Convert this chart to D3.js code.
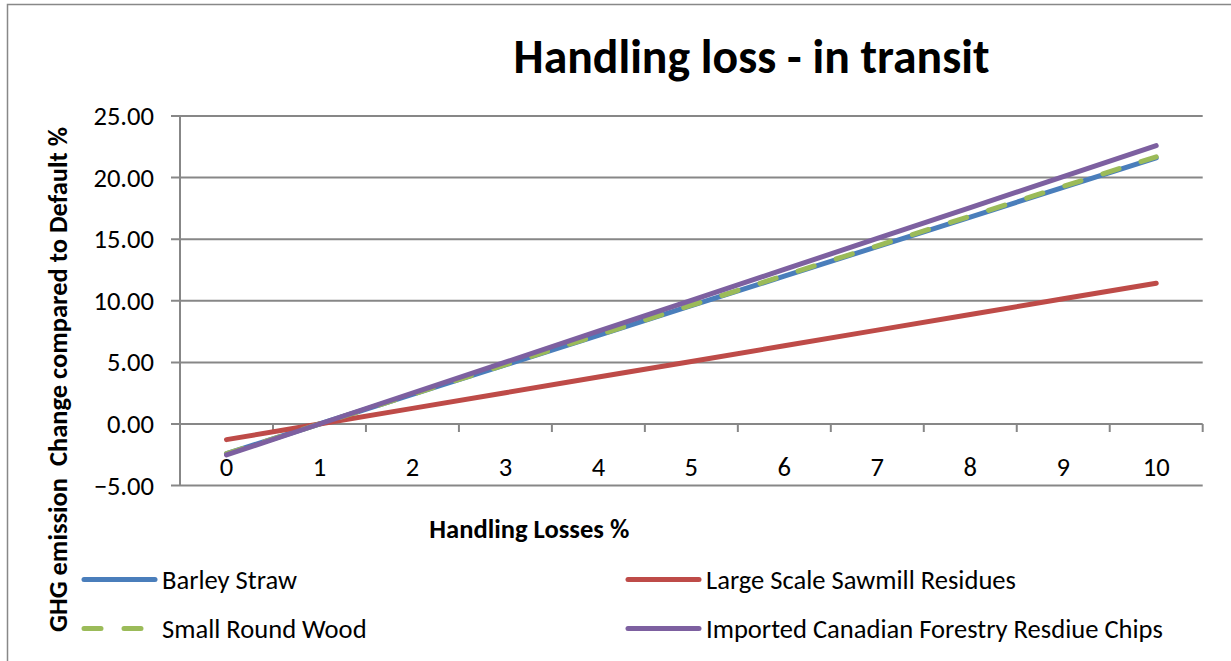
<!DOCTYPE html>
<html>
<head>
<meta charset="utf-8">
<script src="https://cdn.jsdelivr.net/npm/d3@7"></script>
<style>
  html, body { margin: 0; padding: 0; background: #fff; }
  svg { display: block; }
  text { font-family: Carlito, Calibri, Lato, "Noto Sans", sans-serif; fill: #000; }
</style>
</head>
<body>
<script>
// ---------- data ----------
const categories = ["0","1","2","3","4","5","6","7","8","9","10"];
const yTicks = [-5, 0, 5, 10, 15, 20, 25];
const seriesNames = ["Barley Straw", "Large Scale Sawmill Residues", "Small Round Wood", "Imported Canadian Forestry Resdiue Chips"];
const barleyStraw   = [-2.40, 0.00, 2.40, 4.80, 7.20, 9.60, 12.00, 14.40, 16.80, 19.20, 21.60];
const sawmill       = [-1.27, 0.00, 1.27, 2.54, 3.81, 5.08, 6.35, 7.62, 8.89, 10.16, 11.43];
const smallRoundWood= [-2.41, 0.00, 2.41, 4.82, 7.23, 9.64, 12.05, 14.46, 16.87, 19.28, 21.69];
const canadianChips = [-2.51, 0.00, 2.51, 5.02, 7.53, 10.04, 12.55, 15.06, 17.57, 20.08, 22.59];
const titleText = "Handling loss - in transit";
const xTitle = "Handling Losses %";
const yTitle = "GHG emission  Change compared to Default %";

(function () {
// ---------- layout ----------
const W = 1231, H = 661;
const pL = 180, pR = 1202.7, pT = 116, pB = 485.6;

const svg = d3.select("body").append("svg").attr("width", W).attr("height", H);

// chart border (left & top visible)
svg.append("rect").attr("x", 7.5).attr("y", 4.5).attr("width", 1240).attr("height", 700)
  .attr("fill", "none").attr("stroke", "#888").attr("stroke-width", 1.5);

const x = d3.scaleBand().domain(categories).range([pL, pR]).padding(0);
const y = d3.scaleLinear().domain([-5, 25]).range([pB, pT]);
const cx = d => x(d) + x.bandwidth() / 2;

function fit(sel, target) {
  const w = sel.node().getComputedTextLength();
  const fs = parseFloat(sel.attr("font-size"));
  sel.attr("font-size", fs * target / w);
  return fs * target / w;
}

// gridlines
svg.append("g").selectAll("line").data(yTicks).join("line")
  .attr("x1", pL - 9).attr("x2", pR)
  .attr("y1", d => y(d)).attr("y2", d => y(d))
  .attr("stroke", "#878787").attr("stroke-width", 2);

// y axis line
svg.append("line").attr("x1", pL).attr("x2", pL).attr("y1", pT).attr("y2", pB)
  .attr("stroke", "#878787").attr("stroke-width", 2);

// x tick marks at band boundaries on the y=0 line
const bounds = categories.map(c => x(c) + x.bandwidth());
svg.append("g").selectAll("line").data(bounds).join("line")
  .attr("x1", d => d).attr("x2", d => d).attr("y1", y(0)).attr("y2", y(0) + 8)
  .attr("stroke", "#878787").attr("stroke-width", 2);

// body font size matched to reference text widths
const probe = svg.append("text").attr("font-size", 24).text(seriesNames[3]);
const bodyFs = fit(probe, 457);
probe.remove();

// y axis labels
const yAxis = svg.append("g").attr("transform", `translate(${pL},0)`)
  .call(d3.axisLeft(y).tickValues(yTicks).tickFormat(d3.format(".2f")).tickSize(9).tickPadding(17));
yAxis.attr("font-family", null).attr("font-size", null);
yAxis.select(".domain").remove();
yAxis.selectAll(".tick line").remove();
yAxis.selectAll("text").attr("font-size", bodyFs).attr("fill", "#000");

// x axis labels
const xAxis = svg.append("g").attr("transform", `translate(0,${y(0)})`)
  .call(d3.axisBottom(x).tickSize(0).tickPadding(0));
xAxis.attr("font-family", null).attr("font-size", null);
xAxis.select(".domain").remove();
xAxis.selectAll("text").attr("font-size", bodyFs).attr("fill", "#000").attr("dy", null)
  .attr("y", 467 - y(0)).attr("dominant-baseline", "central");

// lines
const colors = ["#4A7EBB", "#BE4B48", "#9BBB59", "#7D60A0"];
const seriesData = [barleyStraw, sawmill, smallRoundWood, canadianChips];
const dashes = [null, null, "17,23", null];
const lineGen = d3.line().x((d, i) => cx(categories[i])).y(d => y(d));
[0, 1, 2, 3].forEach(k => {
  svg.append("path").datum(seriesData[k]).attr("d", lineGen)
    .attr("fill", "none").attr("stroke", colors[k]).attr("stroke-width", 5)
    .attr("stroke-linecap", "round").attr("stroke-linejoin", "round")
    .attr("stroke-dasharray", dashes[k]);
});

// title
const t = svg.append("text").attr("x", 751.5).attr("y", 73.4).attr("text-anchor", "middle")
  .attr("font-weight", "bold").attr("font-size", 48).text(titleText);
fit(t, 476);

// x title
const xt = svg.append("text").attr("x", 529.3).attr("y", 538).attr("text-anchor", "middle")
  .attr("font-weight", "bold").attr("font-size", 22).text(xTitle);
fit(xt, 200);

// y title
const yt = svg.append("text").attr("transform", "translate(67,379.5) rotate(-90)")
  .attr("text-anchor", "middle").attr("font-weight", "bold").attr("font-size", 24)
  .style("white-space", "pre").text(yTitle);
fit(yt, 505);

// legend
const legendPos = [
  {lx: 84, tx: 162, y: 579.5},
  {lx: 628, tx: 706, y: 579.5},
  {lx: 84, tx: 162, y: 628.5},
  {lx: 628, tx: 706, y: 628.5}
];
const lg = svg.append("g").selectAll("g").data(seriesNames).join("g");
lg.append("line")
  .attr("x1", (d, i) => legendPos[i].lx).attr("x2", (d, i) => legendPos[i].lx + 71)
  .attr("y1", (d, i) => legendPos[i].y).attr("y2", (d, i) => legendPos[i].y)
  .attr("stroke", (d, i) => colors[i]).attr("stroke-width", 5)
  .attr("stroke-linecap", "round").attr("stroke-dasharray", (d, i) => dashes[i]);
lg.append("text")
  .attr("x", (d, i) => legendPos[i].tx).attr("y", (d, i) => legendPos[i].y)
  .attr("dominant-baseline", "central").attr("font-size", bodyFs)
  .text(d => d);
})();
</script>
</body>
</html>
